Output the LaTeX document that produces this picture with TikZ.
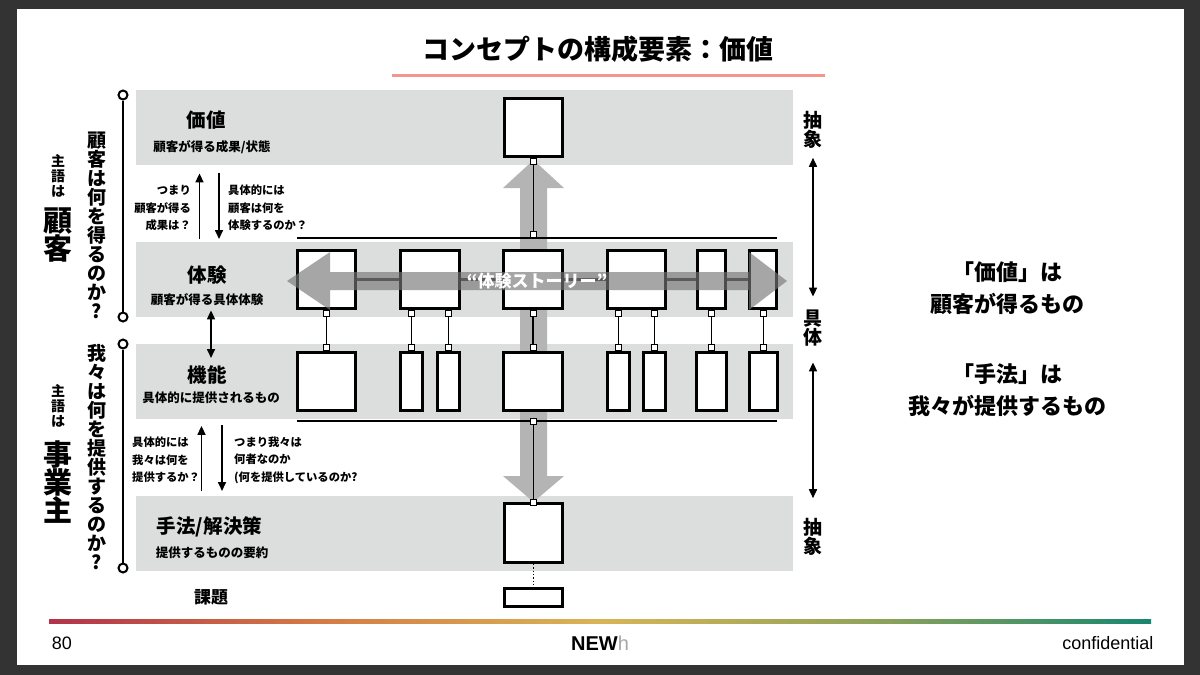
\documentclass[tikz,border=0pt]{standalone}
\usepackage{fontspec}
\setmainfont{Noto Sans CJK JP}
\newfontfamily\footfont{Liberation Sans}
\usetikzlibrary{positioning,arrows.meta}

\definecolor{slidebg}{HTML}{333333}
\definecolor{bandgray}{HTML}{DCDDDD}
\definecolor{rulepink}{HTML}{F4958C}
\definecolor{flowgray}{HTML}{B4B4B4}
\definecolor{storygray}{HTML}{777777}
\definecolor{g1}{HTML}{B2334A}
\definecolor{g2}{HTML}{D57C45}
\definecolor{g3}{HTML}{D9B456}
\definecolor{g4}{HTML}{8FA35A}
\definecolor{g5}{HTML}{17876F}
\pgfdeclarehorizontalshading{footshade}{100bp}{color(0bp)=(g1); color(25bp)=(g1); color(37.5bp)=(g2); color(50bp)=(g3); color(62.5bp)=(g4); color(75bp)=(g5); color(100bp)=(g5)}

\tikzset{
  band/.style={fill=bandgray, minimum width=657, minimum height=75, anchor=north west, inner sep=0},
  box/.style={draw, line width=2.8, fill=white, inner sep=0, minimum height=58.2},
  tab/.style={draw, line width=1, fill=white, inner sep=0, minimum size=6},
  link/.style={line width=1.4},
  rule/.style={line width=2},
  dot/.style={circle, draw, line width=2, fill=white, inner sep=0, minimum size=9},
  arr/.style={line width=1.6, -{Triangle[width=8,length=9]}},
  dblarr/.style={line width=1.6, {Triangle[width=8,length=9]}-{Triangle[width=8,length=9]}},
  head/.style={font=\fontsize{19.5}{20}\selectfont\bfseries},
  sub/.style={font=\fontsize{12.5}{14}\selectfont\bfseries},
  note/.style={font=\fontsize{11.3}{17.5}\selectfont\bfseries, inner sep=0},
  vtext/.style={align=center, font=\fontsize{19}{19}\selectfont\bfseries, inner sep=0},
  subj/.style={align=center, font=\fontsize{14}{15}\selectfont\bfseries, inner sep=0},
  who/.style={align=center, font=\fontsize{29}{28}\selectfont\bfseries, inner sep=0},
  msg/.style={align=center, font=\fontsize{22}{32.5}\selectfont\bfseries},
}

\begin{document}
\begin{tikzpicture}[x=1pt,y=-1pt]
  \useasboundingbox (0,0) rectangle (1200,675);
  \fill[slidebg] (0,0) rectangle (1200,675);
  \fill[white] (17,9) rectangle (1184,665);

  % title
  \node[font=\fontsize{27}{27}\selectfont\bfseries] (title) at (598,49) {コンセプトの構成要素：価値};
  \draw[rulepink, line width=3] (392,75) -- (825,75);

  % bands
  \node[band] (b1) at (136,90) {};
  \node[band] (b2) at (136,242) {};
  \node[band] (b3) at (136,344) {};
  \node[band] (b4) at (136,496) {};

  \node[head] (l1) at (206,120) {価値};
  \node[sub] (d1) at (212,147) {顧客が得る成果/状態};
  \node[head] (l2) at (207,275) {体験};
  \node[sub] (d2) at (207,300) {顧客が得る具体体験};
  \node[head] (l3) at (207,375) {機能};
  \node[sub] (d3) at (211,398) {具体的に提供されるもの};
  \node[head] (l4) at (209.5,527) {手法/解決策};
  \node[sub] (d4) at (212,553) {提供するものの要約};
  \node[head, font=\fontsize{17}{17}\selectfont\bfseries] (l5) at (211,597) {課題};

  % flow through the middle
  \fill[flowgray] (533.5,160) -- (564,188) -- (547,188) -- (547,476) -- (564,476)
    -- (533.5,502) -- (503,476) -- (520,476) -- (520,188) -- (503,188) -- cycle;

  \coordinate (tl-w) at (297,238);
  \coordinate (tl-e) at (777,238);
  \coordinate (tl-m) at (533.5,238);
  \coordinate (bl-w) at (297,421);
  \coordinate (bl-e) at (777,421);
  \coordinate (bl-m) at (533.5,421);
  \draw[rule] (tl-w) -- (tl-e);
  \draw[rule] (bl-w) -- (bl-e);

  \node[box, minimum width=58.2] (v) at (533.5,127.5) {};
  \foreach \n/\x/\w in {e1/326.5/58.2, e2/430/59.2, e3/533/59.2, e4/636.5/58.2, e5/711.5/28.2, e6/763/27.2}
    \node[box, minimum width=\w] (\n) at (\x,279.5) {};
  \foreach \n/\x/\w in {f1/326.5/58.2, f2/411.5/22.2, f3/448.5/22.2, f4/533/59.2, f5/618.5/22.2, f6/654.5/22.2, f7/711.5/30.2, f8/763.5/28.2}
    \node[box, minimum width=\w] (\n) at (\x,381.5) {};
  \node[box, minimum width=58.2, minimum height=59.2] (m) at (533.5,533) {};
  \node[box, minimum width=58.2, minimum height=18.2] (k) at (533.5,597.5) {};

  \foreach \e/\f in {e1/f1,e2/f2,e2/f3,e3/f4,e4/f5,e4/f6,e5/f7,e6/f8}
    \draw[link] (\e.south -| \f) node[tab, anchor=north] {} -- (\f.north) node[tab, anchor=south] {};
  \draw[link] (v.south) node[tab, anchor=north] {} -- (tl-m) node[tab, anchor=south] {};
  \draw[link] (bl-m) node[tab] {} -- (m.north) node[tab] {};
  \draw[dotted, line width=1.3] (m) -- (k);

  % experience story
  \foreach \a/\b in {e1/e2,e2/e3,e3/e4,e4/e5,e5/e6}
    \draw[line width=2.5, black!85] (\a) -- (\b);
  \fill[storygray, opacity=0.65] (287,281) -- (330,252) -- (330,272) -- (749,272) -- (749,252)
    -- (787,281) -- (749,310) -- (749,290) -- (330,290) -- (330,310) -- cycle;
  \node[font=\fontsize{17}{17}\selectfont\bfseries, text=white] (story) at (537,281) {“体験ストーリー”};

  % left side
  \node[dot] (k1) at (123,95) {};
  \node[dot] (k2) at (123,317) {};
  \node[dot] (k3) at (123,344) {};
  \node[dot] (k4) at (123,568) {};
  \draw[rule] (k1) -- (k2);
  \draw[rule] (k3) -- (k4);

  \node[vtext] (q1) at (97,225) {顧\\客\\は\\何\\を\\得\\る\\の\\か\\?};
  \node[vtext] (q2) at (97,457) {我\\々\\は\\何\\を\\提\\供\\す\\る\\の\\か\\?};
  \node[subj] (s1) at (58,176) {主\\語\\は};
  \node[who] (w1) at (58,235) {顧\\客};
  \node[subj] (s2) at (58,406) {主\\語\\は};
  \node[who] (w2) at (58,482) {事\\業\\主};

  \coordinate (x1) at (199.5,0);
  \coordinate (x2) at (219,0);
  \coordinate (x3) at (211,0);
  \coordinate (x4) at (201.5,0);
  \coordinate (x5) at (222,0);
  \draw[arr, shorten <=3, shorten >=8] (b2.north -| x1) -- (b1.south -| x1);
  \draw[arr, shorten <=8, shorten >=3] (b1.south -| x2) -- (b2.north -| x2);
  \draw[dblarr, shorten <=-7, shorten >=-14] (b2.south -| x3) -- (b3.north -| x3);
  \draw[arr, shorten <=5, shorten >=6.5] (b4.north -| x4) -- (b3.south -| x4);
  \draw[arr, shorten <=6, shorten >=5] (b3.south -| x5) -- (b4.north -| x5);

  \node[note, align=right, anchor=east] (n1) at (191,208) {つまり\\顧客が得る\\成果は？};
  \node[note, align=left, anchor=west] (n2) at (228,208) {具体的には\\顧客は何を\\体験するのか？};
  \node[note, align=left, anchor=west] (n3) at (132,460) {具体的には\\我々は何を\\提供するか？};
  \node[note, align=left, anchor=west] (n4) at (234,460) {つまり我々は\\何者なのか\\(何を提供しているのか?};

  % right side
  \node[vtext] (abs1) at (813,130) {抽\\象};
  \node[vtext] (conc) at (813,328) {具\\体};
  \node[vtext] (abs2) at (813,537) {抽\\象};
  \draw[dblarr, shorten <=9, shorten >=13] (abs1) -- (conc);
  \draw[dblarr, shorten <=16, shorten >=20] (conc) -- (abs2);

  \node[msg] (msg1) at (1007,288) {「価値」は\\顧客が得るもの};
  \node[msg] (msg2) at (1007,390) {「手法」は\\我々が提供するもの};

  % footer
  \shade[shading=footshade] (49,619) rectangle (1151,623);
  \node[font=\footfont\fontsize{18}{18}\selectfont] (page) at (62,643) {80};
  \node[font=\footfont\fontsize{20}{20}\selectfont] (logo) at (600,643) {\bfseries NEW\mdseries\color{black!35}h};
  \node[font=\footfont\fontsize{18}{18}\selectfont, anchor=east] (conf) at (1157,643) {confidential};
\end{tikzpicture}
\end{document}
